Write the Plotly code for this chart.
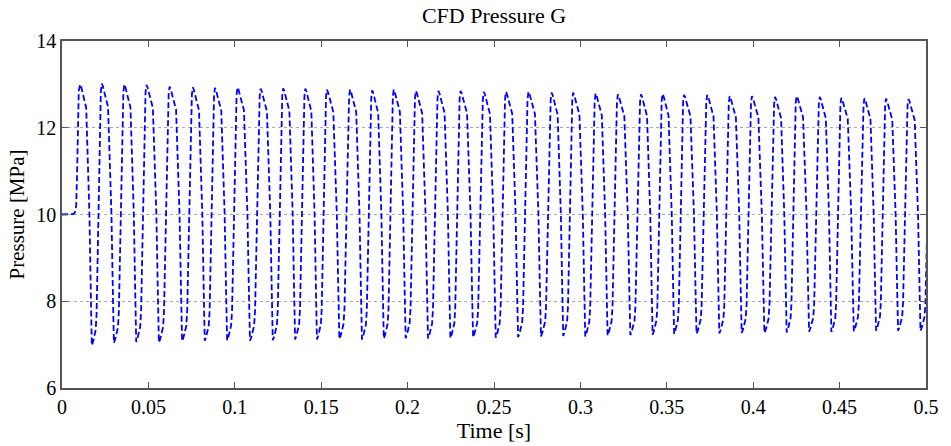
import plotly.graph_objects as go

# ---- data ----
# start-up segment (before first peak)
init_t = [0.0, 0.004, 0.0065, 0.0075, 0.0082, 0.0087, 0.0092, 0.0097, 0.01052]
init_p = [10.0, 10.0, 10.01, 10.05, 10.2, 10.9, 12.2, 12.85, 13.0]

# time of each pressure peak [s]
peak_t = [0.01052, 0.02299, 0.03603, 0.04885, 0.06224, 0.07569, 0.08851, 0.10155,
          0.11494, 0.12799, 0.14080, 0.15328, 0.16667, 0.17948, 0.19195, 0.20477,
          0.21782, 0.23063, 0.24408, 0.25690, 0.26994, 0.28333, 0.29580, 0.30879,
          0.32167, 0.33506, 0.34753, 0.35994, 0.37339, 0.38638, 0.39925, 0.41264,
          0.42511, 0.43851, 0.45098, 0.46437, 0.47684, 0.48983]
# peak pressure values [MPa]
peak_p = [13.00, 13.02, 13.00, 12.99, 12.95, 12.93, 12.92, 12.93, 12.90, 12.91,
          12.90, 12.88, 12.88, 12.86, 12.88, 12.85, 12.85, 12.85, 12.83, 12.83,
          12.83, 12.81, 12.81, 12.79, 12.77, 12.77, 12.78, 12.76, 12.76, 12.73,
          12.73, 12.71, 12.73, 12.71, 12.69, 12.68, 12.67, 12.66]
# trough value following each peak [MPa]
trough_p = [6.98, 7.04, 7.06, 7.05, 7.08, 7.09, 7.10, 7.09, 7.10, 7.12,
            7.12, 7.13, 7.12, 7.14, 7.15, 7.14, 7.15, 7.17, 7.16, 7.17,
            7.19, 7.20, 7.19, 7.21, 7.22, 7.23, 7.25, 7.25, 7.26, 7.27,
            7.27, 7.28, 7.30, 7.29, 7.31, 7.32, 7.32, 7.32]

# one cycle's waveform (phase from a peak, level 0=trough 1=peak)
cycle_phase = [0.00, 0.05, 0.12, 0.20, 0.28, 0.32, 0.36, 0.43, 0.50, 0.54,
               0.60, 0.66, 0.72, 0.76, 0.80, 0.86, 0.92, 0.96]
cycle_level = [1.00, 0.99, 0.965, 0.94, 0.91, 0.80, 0.68, 0.50, 0.17, 0.00,
               0.015, 0.035, 0.06, 0.12, 0.28, 0.58, 0.86, 0.97]
trough_phase = 0.54

x_ticks = [0, 0.05, 0.1, 0.15, 0.2, 0.25, 0.3, 0.35, 0.4, 0.45, 0.5]
x_labels = ["0", "0.05", "0.1", "0.15", "0.2", "0.25", "0.3", "0.35", "0.4", "0.45", "0.5"]
y_ticks = [6, 8, 10, 12, 14]

# ---- assemble the trace from the read values ----
t = list(init_t[:-1])
p = list(init_p[:-1])
n = len(peak_t)
for i in range(n):
    period = (peak_t[i + 1] - peak_t[i]) if i + 1 < n else (peak_t[-1] - peak_t[0]) / (n - 1)
    next_pk = peak_p[i + 1] if i + 1 < n else peak_p[-1]
    for ph, lv in zip(cycle_phase, cycle_level):
        hi = peak_p[i] if ph <= trough_phase else next_pk
        t.append(peak_t[i] + ph * period)
        p.append(trough_p[i] + lv * (hi - trough_p[i]))

font_family = "Liberation Serif, Times New Roman, serif"
axis_col = "#555555"

fig = go.Figure()
fig.add_trace(go.Scatter(
    x=t, y=p, mode="lines",
    line=dict(color="#0000FF", width=1.8, dash="6px,3px"),
    showlegend=False, hoverinfo="skip",
))

fig.update_layout(
    width=951, height=446,
    margin=dict(l=62, r=19, t=41, b=53),
    paper_bgcolor="white", plot_bgcolor="white",
    font=dict(family=font_family, size=20, color="black"),
    title=dict(text="CFD Pressure G", x=0.5, xanchor="center", xref="paper",
               y=0.982, yanchor="top", font=dict(size=22)),
)
fig.update_xaxes(
    range=[0, 0.5], tickvals=x_ticks, ticktext=x_labels,
    showgrid=False, zeroline=False,
    showline=True, linecolor=axis_col, linewidth=1.5, mirror="ticks",
    ticks="inside", ticklen=6, tickcolor=axis_col,
    title=dict(text="Time [s]", font=dict(size=22), standoff=1),
    tickfont=dict(size=20),
)
fig.update_yaxes(
    range=[6, 14], tickvals=y_ticks,
    showgrid=True, gridcolor="#aaaaaa", griddash="dot", gridwidth=1,
    zeroline=False,
    showline=True, linecolor=axis_col, linewidth=1.5, mirror="ticks",
    ticks="inside", ticklen=6, tickcolor=axis_col,
    title=dict(text="Pressure [MPa]", font=dict(size=21), standoff=6),
    tickfont=dict(size=20),
)

fig.write_html("out.html")
